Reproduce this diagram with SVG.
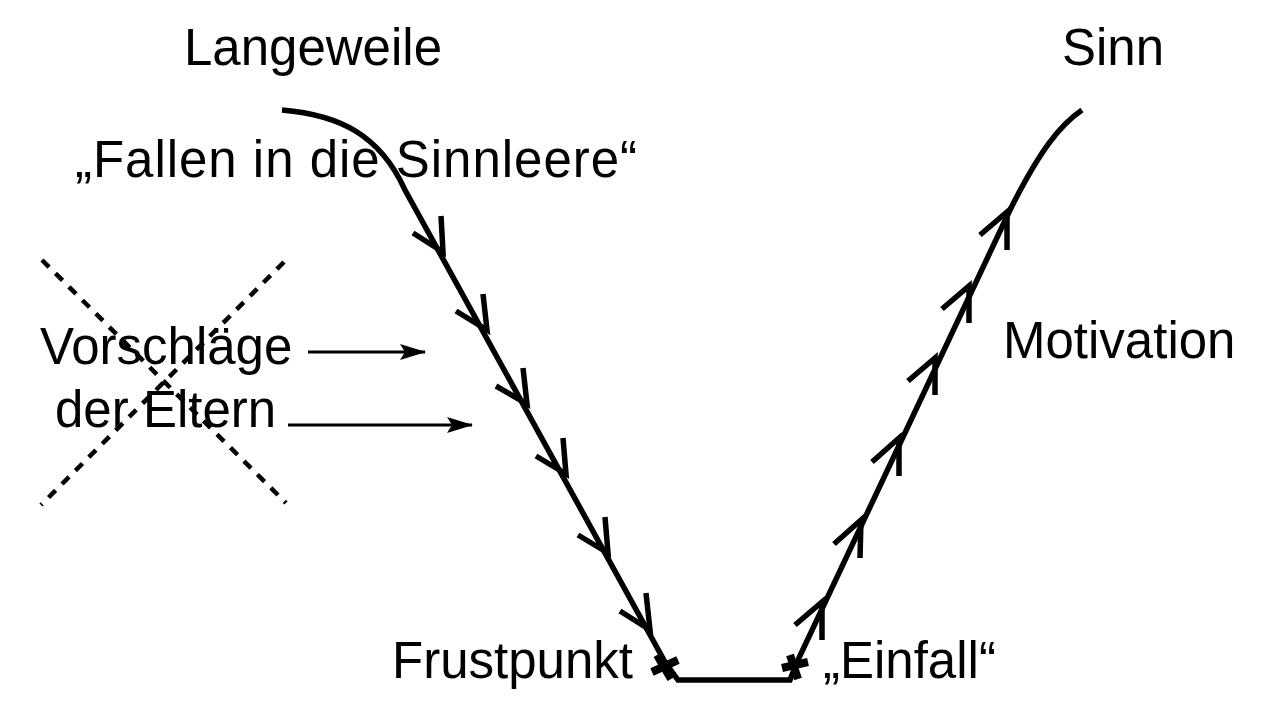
<svg xmlns="http://www.w3.org/2000/svg" width="1280" height="720" viewBox="0 0 1280 720">
<defs>
<style>
text{font-family:"Liberation Sans",Arial,sans-serif;font-size:51px;fill:#000}
.l{fill:none;stroke:#000;stroke-width:5.5}
.c{fill:none;stroke:#000;stroke-width:5.5}
.t{fill:none;stroke:#000;stroke-width:3}
.d{fill:none;stroke:#000;stroke-width:4.5;stroke-dasharray:10 9}
.x{stroke:#000;stroke-width:8}
</style>
<marker id="a" markerWidth="26" markerHeight="16" refX="25" refY="8" orient="auto" markerUnits="userSpaceOnUse"><path d="M0,0 L26,8 L0,16 L5,8 Z"/></marker>
</defs>
<rect width="1280" height="720" fill="#fff"/>
<g id="labels">
<text x="313" y="65" text-anchor="middle">Langeweile</text>
<text x="1113" y="65" text-anchor="middle">Sinn</text>
<text x="75" y="177" textLength="562">„Fallen in die  Sinnleere“</text>
<text x="40" y="364">Vorschläge</text>
<text x="55" y="427">der Eltern</text>
<text x="1003" y="358">Motivation</text>
<text x="392" y="678">Frustpunkt</text>
<text x="823" y="678">„Einfall“</text>
</g>
<g id="cross">
<line class="d" x1="42" y1="260" x2="286" y2="503"/>
<line class="d" x1="284" y1="262" x2="41" y2="505"/>
</g>
<g id="connectors">
<path class="l" d="M282,110 C340,115 380,135 405,190 L665,662 L678,680 L790,680 L797,662 L1010,210 C1040,150 1060,125 1082,110"/>
<line class="t" x1="308" y1="352" x2="425" y2="352" marker-end="url(#a)"/>
<line class="t" x1="288" y1="425" x2="472" y2="425" marker-end="url(#a)"/>
<g class="c">
<path d="M441,216 L443,252 L413,233"/>
<path d="M483,294 L487,330 L456,311"/>
<path d="M523,368 L527,404 L496,386"/>
<path d="M563,438 L566,474 L536,456"/>
<path d="M605,517 L608,553 L578,535"/>
<path d="M646,593 L650,630 L620,611"/>
<path d="M822,640 L822,602 L795,625"/>
<path d="M860,558 L861,520 L834,544"/>
<path d="M899,476 L899,438 L872,462"/>
<path d="M935,395 L935,358 L908,381"/>
<path d="M969,323 L969,286 L942,309"/>
<path d="M1007,250 L1007,212 L980,235"/>
</g>
<g class="x">
<line x1="657" y1="655" x2="671" y2="679"/>
<line x1="652" y1="672" x2="678" y2="660"/>
<line x1="790" y1="655" x2="798" y2="679"/>
<line x1="782" y1="668" x2="808" y2="662"/>
</g>
</g>
</svg>
